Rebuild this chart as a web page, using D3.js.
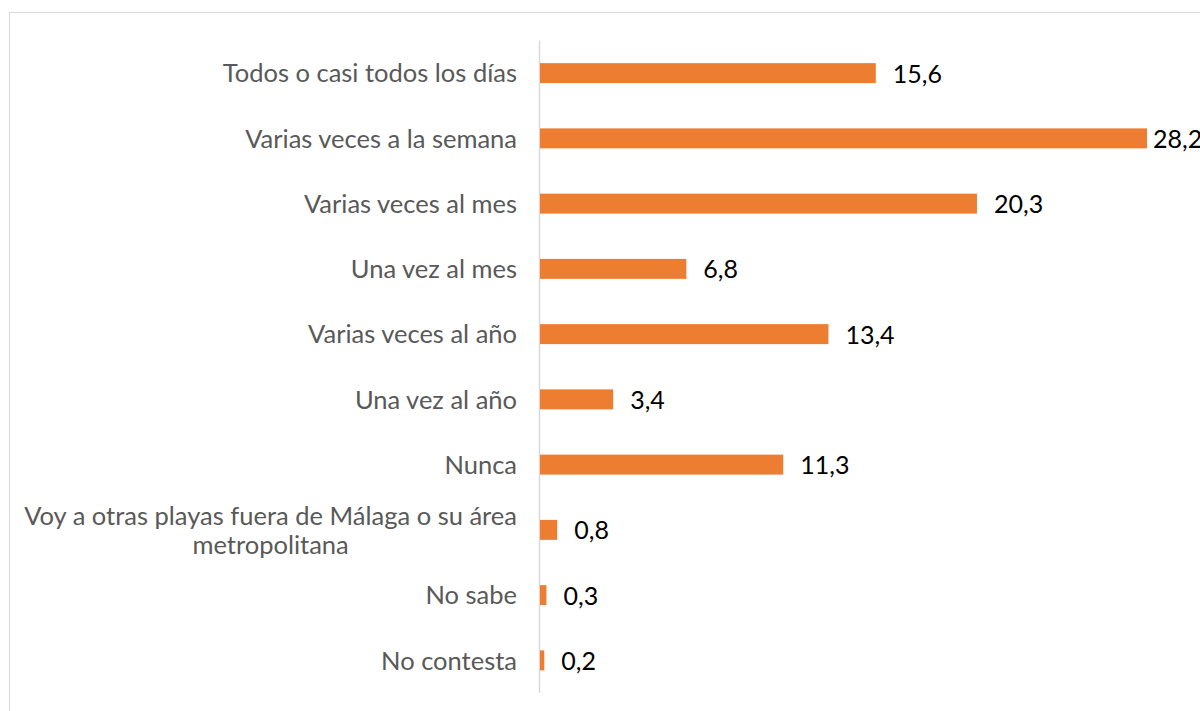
<!DOCTYPE html>
<html>
<head>
<meta charset="utf-8">
<script src="https://cdn.jsdelivr.net/npm/d3@7"></script>
<style>
  body { margin: 0; background: #fff; }
  svg { display: block; }
</style>
</head>
<body>
<svg id="chart" width="1200" height="711"></svg>
<script>
// categories, top to bottom
var categories = [
  ["Todos o casi todos los días"],
  ["Varias veces a la semana"],
  ["Varias veces al mes"],
  ["Una vez al mes"],
  ["Varias veces al año"],
  ["Una vez al año"],
  ["Nunca"],
  ["Voy a otras playas fuera de Málaga o su área", "metropolitana"],
  ["No sabe"],
  ["No contesta"]
];
var values = [15.6, 28.2, 20.3, 6.8, 13.4, 3.4, 11.3, 0.8, 0.3, 0.2];

var svg = d3.select("#chart"),
  width = +svg.attr("width"),
  height = +svg.attr("height");

// chart area border (runs off the right / bottom edge)
svg.append("rect")
  .attr("x", 9.5)
  .attr("y", 12.5)
  .attr("width", width + 20)
  .attr("height", height + 20)
  .attr("fill", "none")
  .attr("stroke", "#d9d9d9");

var x0 = 540;
var x = d3.scaleLinear().domain([0, 28.2]).range([x0, 1147]);
var y = d3.scaleBand()
  .domain(d3.range(values.length))
  .range([40.5, 693])
  .paddingInner(0.694)
  .paddingOuter(0.347);

// vertical axis line
svg.append("line")
  .attr("x1", x0 - 0.5).attr("x2", x0 - 0.5)
  .attr("y1", 40.5).attr("y2", 693)
  .attr("stroke", "#d9d9d9")
  .attr("stroke-width", 1.5);

var g = svg.append("g");

g.selectAll("rect.bar")
  .data(values)
  .enter()
  .append("rect")
  .attr("class", "bar")
  .attr("x", x0)
  .attr("y", function(d, i) { return y(i); })
  .attr("width", function(d) { return x(d) - x0; })
  .attr("height", y.bandwidth())
  .attr("fill", "#ed7d31");

// value labels
g.selectAll("text.val")
  .data(values)
  .enter()
  .append("text")
  .attr("class", "val")
  .attr("x", function(d) { return Math.min(x(d) + 17, 1153); })
  .attr("y", function(d, i) { return y(i) + y.bandwidth() / 2; })
  .attr("dy", "0.38em")
  .attr("font-family", "Lato, 'Noto Sans', sans-serif")
  .attr("font-size", 25)
  .attr("fill", "#000")
  .text(function(d) { return d3.format(".1f")(d).replace(".", ","); });

// category labels (wrapped ones are centred on each other, right aligned as a block)
var lab = g.selectAll("text.cat")
  .data(categories)
  .enter()
  .append("text")
  .attr("class", "cat")
  .attr("font-family", "Lato, 'Noto Sans', sans-serif")
  .attr("font-size", 25.5)
  .attr("fill", "#595959")
  .attr("text-anchor", "end")
  .attr("transform", function(d, i) {
    return "translate(517," + (y(i) + y.bandwidth() / 2) + ")";
  });

lab.each(function(lines) {
  var t = d3.select(this);
  var lh = 29;
  var top = -(lines.length - 1) * lh / 2;
  lines.forEach(function(s, k) {
    t.append("tspan").attr("x", 0).attr("y", top + k * lh).attr("dy", "0.36em").text(s);
  });
  if (lines.length > 1) {
    // centre the extra lines under the first one
    var spans = t.selectAll("tspan").nodes();
    var w0 = spans[0].getComputedTextLength();
    spans.forEach(function(sp, k) {
      if (k == 0) return;
      var w = sp.getComputedTextLength();
      d3.select(sp).attr("x", -(w0 - w) / 2);
    });
  }
});
</script>
</body>
</html>
